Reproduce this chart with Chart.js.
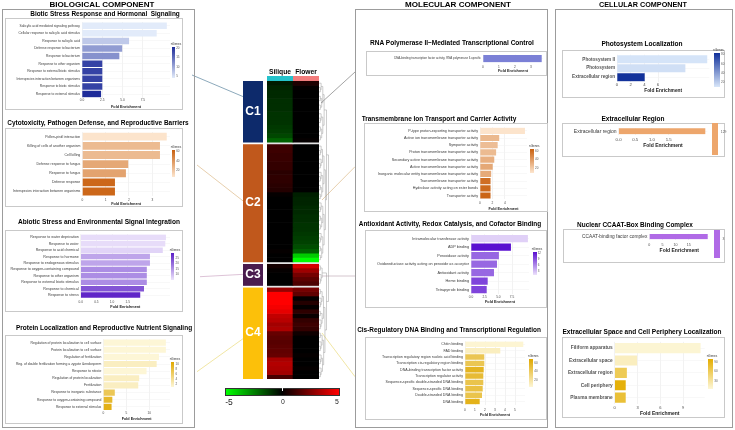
<!DOCTYPE html>
<html>
<head>
<meta charset="utf-8">
<title>GO enrichment by expression cluster</title>
<script src="https://cdn.jsdelivr.net/npm/chart.js@4.4.1/dist/chart.umd.min.js"></script>
<style>
  html, body { margin:0; padding:0; background:#fff; }
  body { width:735px; height:430px; position:relative; overflow:hidden; font-family:"Liberation Sans", Arial, sans-serif; -webkit-font-smoothing:antialiased; }
  .frame { position:absolute; border:1px solid #9c9c9c; box-sizing:border-box; }
  .box { position:absolute; border:1px solid #c9c9c9; box-sizing:border-box; }
  canvas { position:absolute; }
  .txt { position:absolute; white-space:pre; line-height:1; transform:translate(-50%,-50%); color:#000; will-change:transform; }
  .lbl { position:absolute; white-space:nowrap; line-height:1; color:#444; }
</style>
</head>
<body>
<svg id="links" width="735" height="430" style="position:absolute;left:0;top:0"></svg>
<script>
// ======== Data ========
// Biological component
const bioticLabels = ['Salicylic acid mediated signaling pathway','Cellular response to salicylic acid stimulus','Response to salicylic acid','Defense response to bacterium','Response to bacterium','Response to other organism','Response to external biotic stimulus','Interspecies interaction between organisms','Response to biotic stimulus','Response to external stimulus'];
const bioticFE = [10.45, 9.2, 5.8, 4.95, 4.6, 2.5, 2.5, 2.5, 2.5, 2.35];
const bioticGenes = [4, 4, 7, 11, 12, 19, 19, 19, 19, 21];

const cytoLabels = ['Pollen-pistil interaction','Killing of cells of another organism','Cell killing','Defense response to fungus','Response to fungus','Defense response','Interspecies interaction between organisms'];
const cytoFE = [3.62, 3.33, 3.33, 1.97, 1.87, 1.4, 1.4];
const cytoGenes = [9, 26, 26, 34, 36, 61, 61];

const abioticLabels = ['Response to water deprivation','Response to water','Response to acid chemical','Response to hormone','Response to endogenous stimulus','Response to oxygen-containing compound','Response to other organism','Response to external biotic stimulus','Response to chemical','Response to stress'];
const abioticFE = [2.72, 2.70, 2.62, 2.21, 2.21, 2.11, 2.11, 2.11, 2.02, 1.90];
const abioticGenes = [6, 6, 7, 13, 13, 16, 16, 16, 23, 29];

const proteinLabels = ['Regulation of protein localization to cell surface','Protein localization to cell surface','Regulation of fertilization','Reg. of double fertilization forming a zygote &endosperm','Response to nitrate','Regulation of protein localization','Fertilization','Response to inorganic substance','Response to oxygen-containing compound','Response to external stimulus'];
const proteinFE = [13.6, 13.6, 12.1, 11.6, 9.4, 7.8, 7.6, 2.5, 1.96, 1.8];
const proteinGenes = [1, 1, 1, 2, 1, 2, 2, 7, 9, 10];

// Molecular component
const rnaPolLabels = ['DNA-binding transcription factor activity, RNA polymerase II-specific'];
const rnaPolFE = [3.67];

const transLabels = ['P-type proton-exporting transporter activity','Active ion transmembrane transporter activity','Symporter activity','Proton transmembrane transporter activity','Secondary active transmembrane transporter activity','Active transmembrane transporter activity','Inorganic molecular entity transmembrane transporter activity','Transmembrane transporter activity','Hydrolase activity acting on ester bonds','Transporter activity'];
const transFE = [7.25, 3.1, 2.85, 2.6, 2.3, 2.05, 1.8, 1.7, 1.7, 1.7];
const transGenes = [9, 27, 25, 26, 31, 34, 33, 58, 60, 62];

const redoxLabels = ['Intramolecular transferase activity','ADP binding','Peroxidase activity','Oxidoreductase activity acting on peroxide as acceptor','Antioxidant activity','Heme binding','Tetrapyrrole binding'];
const redoxFE = [10.4, 7.3, 5.1, 4.75, 4.2, 3.05, 2.87];
const redoxGenes = [2, 13, 8, 8, 8, 10, 10];

const cisLabels = ['Chitin binding','FAD binding','Transcription regulatory region nucleic acid binding','Transcription cis-regulatory region binding','DNA-binding transcription factor activity','Transcription regulator activity','Sequence-specific double-stranded DNA binding','Sequence-specific DNA binding','Double-stranded DNA binding','DNA binding'];
const cisFE = [5.83, 3.53, 1.93, 1.93, 1.87, 1.83, 1.83, 1.77, 1.7, 1.47];
const cisGenes = [6, 12, 45, 45, 60, 54, 47, 50, 47, 62];

// Cellular component
const photoLabels = ['Photosystem II','Photosystem','Extracellular region'];
const photoFE = [13.2, 10.0, 4.05];
const photoGenes = [11, 13, 84];

const extraRegLabels = ['Extracellular region'];
const extraRegFE = [2.6];
const extraRegGenes = [129];

const ccaatLabels = ['CCAAT-binding factor complex'];
const ccaatFE = [22.2];
const ccaatGenes = [3];

const spaceLabels = ['Filiform apparatus','Extracellular space','Extracellular region','Cell periphery','Plasma membrane'];
const spaceFE = [11.3, 2.95, 1.6, 1.45, 1.45];
const spaceGenes = [7, 16, 62, 95, 76];

// Heatmap: log2 fold change per gene block, top to bottom inside each cluster
const clusterNames = ['C1', 'C2', 'C3', 'C4'];
const siliqueC1 = [-0.5,-0.7,-0.8,-0.8,-0.9,-0.9,-0.9,-1.0,-1.0,-1.0,-1.1,-1.2,-1.4,-1.9];
const flowerC1  = [0.6,0.1,0,0,0,0,0,0,0,0,0,0,0,0.1];
const siliqueC2 = [1.2,1.2,1.1,1.1,1.0,1.0,0.8,0.9,0.9,0.8,0.7,0.1,0,0,0,0,0,0,0,0,0,0,0,0,0.1,0,0];
const flowerC2  = [0,0,0,0,0,0,0,0,0,0,0,-0.6,-0.7,-0.7,-0.8,-0.8,-0.9,-0.9,-1.0,-1.0,-1.1,-1.2,-1.3,-1.5,-1.9,-4.0,-5];
const siliqueC3 = [0.4,0.1,0,0,0];
const flowerC3  = [4.2,3.1,2.3,1.8,1.5];
const siliqueC4 = [3.0,5,5,5,4.8,4.5,3.8,3.6,3.2,3.4,2.0,1.8,1.7,1.8,1.9,2.0,3.3,3.5,3.4,3.2,1.4];
const flowerC4  = [2.3,1.9,0.1,0.7,0.1,0.9,0.2,1.0,1.2,1.0,0.3,0,0,0,0,0.1,0,0,0.1,0,0];
const colorbarTicks = [-5, 0, 5];

// ======== Defaults & helpers ========
Chart.defaults.font.family = '"Liberation Sans", Arial, sans-serif';
Chart.defaults.animation = false;
Chart.defaults.plugins.legend.display = false;
Chart.defaults.plugins.tooltip.enabled = false;

const BLUE = ['#e2ebfa', '#1e2c9a'];
const ORANGE = ['#fde6cf', '#c9600f'];
const PURPLE = ['#ede4fb', '#5a1ec6'];
const YELLOW = ['#fdf6d6', '#e0a800'];

function hex(h){ h = h.replace('#',''); return [0,2,4].map(i => parseInt(h.substr(i,2),16)); }
function mix(a, b, t){ const A = hex(a), B = hex(b); return 'rgb(' + A.map((v,i) => Math.round(v + (B[i]-v)*t)).join(',') + ')'; }
function geneColors(genes, lo, hi, pal){
  return genes.map(g => mix(pal[0], pal[1], Math.max(0, Math.min(1, (g-lo)/(hi-lo)))));
}

function addDiv(cls, x, y, w, h){
  const d = document.createElement('div');
  if (cls) d.className = cls;
  d.style.position = 'absolute';
  d.style.left = x + 'px'; d.style.top = y + 'px';
  d.style.width = w + 'px'; d.style.height = h + 'px';
  document.body.appendChild(d);
  return d;
}

// text centred at (cx, cy), font scaled so it spans `width`
function addText(text, cx, cy, width, bold){
  const d = document.createElement('div');
  d.className = 'txt';
  d.textContent = text;
  d.style.left = cx + 'px'; d.style.top = cy + 'px';
  d.style.fontSize = '10px';
  if (bold !== false) d.style.fontWeight = 'bold';
  document.body.appendChild(d);
  const w = d.getBoundingClientRect().width;
  d.style.fontSize = (10 * width / w) + 'px';
  return d;
}

function smallLabel(text, x, y, size, color){
  const d = document.createElement('div');
  d.className = 'lbl';
  d.textContent = text;
  d.style.left = x + 'px'; d.style.top = y + 'px';
  d.style.fontSize = size + 'px';
  if (color) d.style.color = color;
  document.body.appendChild(d);
  return d;
}

function geneLegend(x, y0, y1, w, lo, hi, pal, ticks){
  const bar = addDiv('', x, y0, w, y1 - y0);
  bar.style.background = 'linear-gradient(to top,' + pal[0] + ',' + pal[1] + ')';
  smallLabel('nGenes', x - 1, y0 - 4.2, 3, '#333');
  ticks.forEach(v => {
    const yy = y1 - (v - lo) / (hi - lo) * (y1 - y0);
    smallLabel(String(v), x + w + 1, yy - 1.5, 3, '#555');
  });
}

function solidLegend(x, y0, y1, w, color, text, ty){
  const bar = addDiv('', x, y0, w, y1 - y0);
  bar.style.background = color;
  smallLabel(text, x + w + 2.5, ty, 3.4, '#555');
}

// ======== Bar panels ========
function barPanel(p){
  const [x0, y0, x1, y1] = p.box;
  addDiv('box', x0, y0, x1 - x0, y1 - y0);
  const W = Math.round(x1 - x0), H = Math.round(y1 - y0);
  const cv = document.createElement('canvas');
  cv.width = W; cv.height = H;
  cv.style.left = x0 + 'px'; cv.style.top = y0 + 'px';
  document.body.appendChild(cv);
  const pl = p.plot[0] - x0, pt = p.plot[1] - y0, pr = p.plot[2] - x0, pb = p.plot[3] - y0;
  const tf = p.tickFont || 3.2, ttf = p.titleFont || 3.8;
  return new Chart(cv, {
    type: 'bar',
    data: {
      labels: p.labels,
      datasets: [{ data: p.values, backgroundColor: p.colors, borderWidth: 0, barPercentage: p.barPct || 0.86, categoryPercentage: 1 }]
    },
    options: {
      indexAxis: 'y',
      responsive: false,
      layout: { padding: { left: 0, right: W - pr, top: pt, bottom: 0 } },
      scales: {
        x: {
          min: 0, max: p.xMax,
          afterFit: s => { s.height = H - pb; },
          afterBuildTicks: s => { s.ticks = s.ticks.filter(t => t.value <= p.maxTick + 1e-6); },
          ticks: {
            stepSize: p.step, autoSkip: false, maxRotation: 0,
            font: { size: tf }, color: '#4a4a4a',
            padding: Math.max(0, p.tickY - p.plot[3] - tf * 0.6),
            callback: v => Number(v).toFixed(p.dec)
          },
          grid: { color: '#e9e9e9', lineWidth: 0.6, drawTicks: false },
          border: { display: false },
          title: {
            display: true, text: 'Fold Enrichment', color: '#222',
            font: { size: ttf, weight: 'bold' },
            padding: { top: 0, bottom: Math.max(0, y1 - p.titleY - ttf * 0.6) }
          }
        },
        y: {
          afterFit: s => { s.width = pl; },
          ticks: {
            autoSkip: false,
            font: { size: p.labelFont, weight: p.labelBold ? 'bold' : 'normal' },
            color: p.labelBold ? '#555' : '#3a3a3a',
            padding: p.labelPad || 2
          },
          grid: { color: '#f0f0f0', lineWidth: 0.5, offset: false, drawTicks: false },
          border: { display: false }
        }
      }
    }
  });
}

// ======== Frames & headings ========
addDiv('frame', 2, 8.5, 193, 419.5);
addDiv('frame', 355, 9, 193, 419);
addDiv('frame', 555, 9, 178, 419);

addText('BIOLOGICAL COMPONENT', 101.5, 5.4, 105);
addText('MOLECULAR COMPONENT', 457.5, 5.4, 106);
addText('CELLULAR COMPONENT', 642.5, 5.4, 88);

addText('Biotic Stress Response and Hormonal  Signaling', 105, 14, 150);
addText('Cytotoxicity, Pathogen Defense, and Reproductive Barriers', 98, 122.7, 182);
addText('Abiotic Stress and Environmental Signal Integration', 99, 222.3, 162);
addText('Protein Localization and Reproductive Nutrient Signaling', 104.3, 327.7, 176.7);
addText('RNA Polymerase II\u2013Mediated Transcriptional Control', 452, 43.3, 164);
addText('Transmembrane Ion Transport and Carrier Activity', 438.5, 119, 155);
addText('Antioxidant Activity, Redox Catalysis, and Cofactor Binding', 449.7, 224, 182.7);
addText('Cis-Regulatory DNA Binding and Transcriptional Regulation', 448.7, 330, 184);
addText('Photosystem Localization', 641.7, 44.3, 81.3);
addText('Extracellular Region', 633.3, 119, 63.3);
addText('Nuclear CCAAT-Box Binding Complex', 634.7, 225, 116);
addText('Extracellular Space and Cell Periphery Localization', 642, 331.7, 159.4);

// ======== Biological panels ========
barPanel({ box:[5,18,183,110], plot:[82,21.2,170,97.8], labels:bioticLabels, values:bioticFE,
  colors:geneColors(bioticGenes,4,21,BLUE), xMax:10.84, step:2.5, maxTick:10, dec:1,
  labelFont:3.3, tickY:100.5, titleY:106.5 });
geneLegend(171.7, 46.7, 78.3, 3.5, 4, 21, BLUE, [20,15,10,5]);

barPanel({ box:[5,127.7,183,206.7], plot:[82.3,128.3,170,195.8], labels:cytoLabels, values:cytoFE,
  colors:geneColors(cytoGenes,8,64,ORANGE), xMax:3.76, step:1, maxTick:3, dec:0,
  labelFont:3.5, tickY:199.4, titleY:204 });
geneLegend(171.7, 150, 176.7, 3.5, 8, 64, ORANGE, [60,40,20]);

barPanel({ box:[5,230,183,312], plot:[80.7,231.7,170,298.3], labels:abioticLabels, values:abioticFE,
  colors:geneColors(abioticGenes,5,30,PURPLE), xMax:2.85, step:0.5, maxTick:1.5, dec:1,
  labelFont:3.6, tickY:301.7, titleY:306.7 });
geneLegend(170.7, 253.3, 280, 3.8, 5, 30, PURPLE, [25,20,15,10]);

barPanel({ box:[5,335,183,424], plot:[103.3,336.3,170,410.4], labels:proteinLabels, values:proteinFE,
  colors:geneColors(proteinGenes,1,11,YELLOW), xMax:14.5, step:5, maxTick:10, dec:0,
  labelFont:3.4, tickY:413.3, titleY:419.3 });
geneLegend(170.7, 361.7, 386.7, 3.8, 1, 11, YELLOW, [10,8,6,4,2]);

// ======== Molecular panels ========
barPanel({ box:[366,51,547,76], plot:[483,52,543,62.5], labels:rnaPolLabels, values:rnaPolFE,
  colors:['#7b80d6'], xMax:3.75, step:1, maxTick:3, dec:0, barPct:0.95,
  labelFont:2.9, tickY:66.7, titleY:71.3 });

barPanel({ box:[364,123.3,548,212.3], plot:[480,125.3,527,199.4], labels:transLabels, values:transFE,
  colors:geneColors(transGenes,8,64,ORANGE), xMax:7.58, step:2, maxTick:6, dec:0,
  labelFont:3.7, tickY:203.3, titleY:209.3 });
geneLegend(530, 149.3, 173.3, 4, 8, 64, ORANGE, [60,40,20]);

barPanel({ box:[365,229.5,547,308.3], plot:[471,231.3,529,293.4], labels:redoxLabels, values:redoxFE,
  colors:geneColors(redoxGenes,1,13,['#ece1fb','#5a10d0']), xMax:10.6, step:2.5, maxTick:7.5, dec:1,
  labelFont:3.8, tickY:296.7, titleY:300.9 });
geneLegend(532.7, 251.7, 275, 4, 1, 13, ['#ece1fb','#5a10d0'], [12,9,6,3]);

barPanel({ box:[365,337.3,547,420], plot:[465,337.8,525,405], labels:cisLabels, values:cisFE,
  colors:geneColors(cisGenes,5,70,YELLOW), xMax:6.0, step:1, maxTick:5, dec:0,
  labelFont:3.6, tickY:410, titleY:415 });
geneLegend(529, 359.3, 386.7, 4.3, 5, 70, YELLOW, [60,40,20]);

// ======== Cellular panels ========
barPanel({ box:[561.7,50,725,98.3], plot:[616.7,51.7,709,81.7], labels:photoLabels, values:photoFE,
  colors:geneColors(photoGenes,10,85,['#d8e6f9','#10309a']), xMax:13.5, step:2, maxTick:6, dec:0, barPct:0.9,
  labelFont:4.6, labelBold:true, tickFont:4.2, titleFont:4.8, tickY:85, titleY:90.7 });
geneLegend(714.3, 52.7, 86.7, 5.7, 10, 85, ['#d8e6f9','#10309a'], [80,60,40,20]);

barPanel({ box:[561.7,123.3,725,156.7], plot:[618.3,123.8,707,134.8], labels:extraRegLabels, values:extraRegFE,
  colors:['#eda66c'], xMax:2.66, step:0.5, maxTick:1.5, dec:1, barPct:0.92,
  labelFont:5, tickFont:4.3, titleFont:5, tickY:140, titleY:146.7 });
solidLegend(712.3, 123.3, 155, 6, '#eda66c', String(extraRegGenes[0]), 131);

barPanel({ box:[562.7,229,725,263.3], plot:[649,229.9,709,239.5], labels:ccaatLabels, values:ccaatFE,
  colors:['#b06ae6'], xMax:22.8, step:5, maxTick:20, dec:0, barPct:0.95,
  labelFont:4.8, tickFont:3.6, titleFont:5, tickY:245, titleY:250.7 });
solidLegend(714.3, 230, 258.3, 5.7, '#b06ae6', String(ccaatGenes[0]), 237.5);

barPanel({ box:[562.3,336.7,725,418.3], plot:[615,338.2,705,403.5], labels:spaceLabels, values:spaceFE,
  colors:geneColors(spaceGenes,5,100,['#fdf7d8','#e4ad00']), xMax:11.84, step:3, maxTick:9, dec:0, barPct:0.82,
  labelFont:4.8, labelBold:true, tickFont:4, titleFont:5, tickY:407.5, titleY:413 });
geneLegend(707.7, 359, 389, 5.6, 5, 100, ['#fdf7d8','#e4ad00'], [90,60,30]);

// ======== Heatmap ========
const hmPairs = [[siliqueC1, flowerC1], [siliqueC2, flowerC2], [siliqueC3, flowerC3], [siliqueC4, flowerC4]];
const clusterColors = ['#0d2a6b', '#c0581c', '#4a1c4e', '#fcc00a'];
const GAP = 0.4;
const totalUnits = hmPairs.reduce((s, p) => s + p[0].length, 0) + GAP * (hmPairs.length - 1);

function fcColor(v){
  const c = Math.round(255 * Math.min(1, Math.abs(v) / 5));
  return v < 0 ? 'rgb(0,' + c + ',0)' : 'rgb(' + c + ',0,0)';
}

const hmDatasets = [];
const clusterStarts = [];
let unit = 0;
hmPairs.forEach((pair, ci) => {
  if (ci > 0) { hmDatasets.push({ data:[GAP, GAP], backgroundColor:'#e4e4e4' }); unit += GAP; }
  clusterStarts.push(unit);
  pair[0].forEach((s, i) => hmDatasets.push({ data:[1, 1], backgroundColor:[fcColor(s), fcColor(pair[1][i])] }));
  unit += pair[0].length;
});

// simple dendrogram built over the rows of each cluster
const dendro = {
  id: 'dendro',
  afterDatasetsDraw(chart){
    const { ctx, chartArea: a, scales: { y } } = chart;
    ctx.save();
    ctx.strokeStyle = '#9a9a9a';
    ctx.lineWidth = 0.5;
    ctx.beginPath();
    const seg = (xa, ya, xb, yb) => { ctx.moveTo(xa, ya); ctx.lineTo(xb, yb); };
    function node(start, lo, hi){
      if (hi - lo <= 1) return { x: a.right, y: y.getPixelForValue(start + lo + 0.5) };
      const mid = Math.floor((lo + hi) / 2);
      const L = node(start, lo, mid), R = node(start, mid, hi);
      const x = a.right + 1.35 * Math.log2(hi - lo);
      seg(L.x, L.y, x, L.y); seg(R.x, R.y, x, R.y); seg(x, L.y, x, R.y);
      return { x, y: (L.y + R.y) / 2 };
    }
    const tops = hmPairs.map((p, ci) => node(clusterStarts[ci], 0, p[0].length));
    const join = (A, B, x) => { seg(A.x, A.y, x, A.y); seg(B.x, B.y, x, B.y); seg(x, A.y, x, B.y); return { x, y: (A.y + B.y) / 2 }; };
    const j12 = join(tops[0], tops[1], a.right + 7.5);
    const j34 = join(tops[2], tops[3], a.right + 7.5);
    join(j12, j34, a.right + 9.5);
    ctx.stroke();
    ctx.restore();
  }
};

const hmCanvas = document.createElement('canvas');
hmCanvas.width = 64; hmCanvas.height = 298;
hmCanvas.style.left = '267px'; hmCanvas.style.top = '81px';
document.body.appendChild(hmCanvas);
new Chart(hmCanvas, {
  type: 'bar',
  data: { labels: ['Silique', 'Flower'],
    datasets: hmDatasets.map(d => Object.assign({ borderWidth:0, barPercentage:1, categoryPercentage:1 }, d)) },
  options: {
    responsive: false,
    layout: { padding: { right: 12 } },
    scales: {
      x: { stacked: true, display: false },
      y: { stacked: true, display: false, reverse: true, min: 0, max: totalUnits }
    }
  },
  plugins: [dendro]
});

// cluster bar
const clusterDatasets = [];
hmPairs.forEach((pair, ci) => {
  if (ci > 0) clusterDatasets.push({ data:[GAP], backgroundColor:'#ffffff' });
  clusterDatasets.push({ name: clusterNames[ci], data:[pair[0].length], backgroundColor: clusterColors[ci] });
});
const clusterText = {
  id: 'clusterText',
  afterDatasetsDraw(chart){
    const ctx = chart.ctx;
    ctx.save();
    ctx.fillStyle = '#fff';
    ctx.font = 'bold 12px "Liberation Sans", Arial, sans-serif';
    ctx.textAlign = 'center'; ctx.textBaseline = 'middle';
    chart.data.datasets.forEach((d, i) => {
      if (!d.name) return;
      const el = chart.getDatasetMeta(i).data[0];
      ctx.fillText(d.name, el.x, (el.y + el.base) / 2);
    });
    ctx.restore();
  }
};
const clCanvas = document.createElement('canvas');
clCanvas.width = 20; clCanvas.height = 298;
clCanvas.style.left = '243px'; clCanvas.style.top = '81px';
document.body.appendChild(clCanvas);
new Chart(clCanvas, {
  type: 'bar',
  data: { labels: ['cluster'],
    datasets: clusterDatasets.map(d => Object.assign({ borderWidth:0, barPercentage:1, categoryPercentage:1 }, d)) },
  options: {
    responsive: false,
    scales: {
      x: { stacked: true, display: false },
      y: { stacked: true, display: false, reverse: true, min: 0, max: totalUnits }
    }
  },
  plugins: [clusterText]
});

// column header strips + labels
addDiv('', 267, 76, 25.8, 4.6).style.background = '#25c2cb';
addDiv('', 292.8, 76, 25.8, 4.6).style.background = '#f27c7c';
addText('Silique', 279.5, 72, 22);
addText('Flower', 305.5, 72, 21.6);

// colour key
const key = addDiv('', 225, 388, 115, 7.5);
key.style.background = 'linear-gradient(to right,' + fcColor(-5) + ' 0%, #000 49.6%,' + fcColor(5) + ' 100%)';
key.style.border = '0.5px solid #333';
key.style.boxSizing = 'border-box';
addDiv('', 282, 388, 0.8, 2.5).style.background = '#fff';
colorbarTicks.forEach(v => {
  const x = 225 + 3.5 + (v + 5) / 10 * 108.5;
  const t = addText(String(v), x, 402, String(v).length * 3.8, false);
  t.style.color = '#222';
});

// ======== Connector lines ========
const links = [
  [192, 75, 244, 97, '#7f9fb3'],
  [197, 165, 244, 201.7, '#e4c9a4'],
  [200, 276.7, 244, 274.3, '#d9bcd3'],
  [197, 371.7, 244, 338, '#efe39a'],
  [321, 103, 355, 72, '#9a9a9a'],
  [322, 200, 355, 166.7, '#e4c9a4'],
  [322, 276, 355, 276, '#d0c0c8'],
  [322, 333, 355, 376.7, '#efe39a']
];
const svg = document.getElementById('links');
links.forEach(([xa, ya, xb, yb, c]) => {
  const l = document.createElementNS('http://www.w3.org/2000/svg', 'line');
  l.setAttribute('x1', xa); l.setAttribute('y1', ya);
  l.setAttribute('x2', xb); l.setAttribute('y2', yb);
  l.setAttribute('stroke', c); l.setAttribute('stroke-width', '0.9');
  svg.appendChild(l);
});
</script>
</body>
</html>
